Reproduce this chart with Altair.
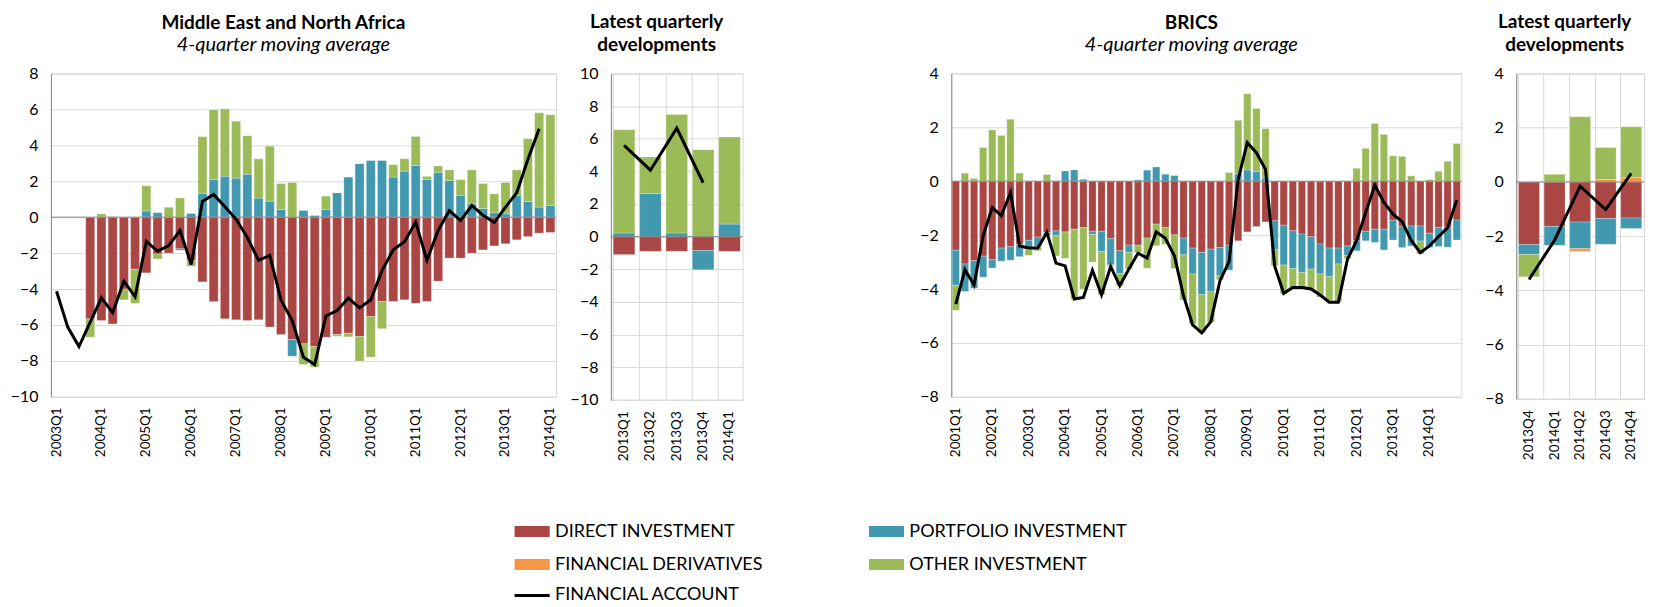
import altair as alt
import pandas as pd

FONT = "Lato"
GRID = "#D9D9D9"
AXIS = "#868686"

SERIES = ["DIRECT INVESTMENT", "PORTFOLIO INVESTMENT", "FINANCIAL DERIVATIVES", "OTHER INVESTMENT"]
COLORS = ["#AA4643", "#4198AF", "#F79646", "#9BBB59"]
LINE_NAME = "FINANCIAL ACCOUNT"


def quarter_labels(first_year, count):
    return [f"{first_year + k // 4}Q{k % 4 + 1}" for k in range(count)]


# ---------------- Middle East and North Africa (4-quarter moving average) ----------------
mena_cats = quarter_labels(2003, 45)  # 2003Q1 .. 2014Q1
mena_ticks = ["2003Q1", "2004Q1", "2005Q1", "2006Q1", "2007Q1", "2008Q1", "2009Q1",
              "2010Q1", "2011Q1", "2012Q1", "2013Q1", "2014Q1"]
mena_di = [None, None, None, -5.66, -5.75, -5.94, -4.0, -2.9, -3.1, -2.05,
           -2.0, -1.76, -2.4, -3.6, -4.7, -5.66, -5.71, -5.75, -5.71, -6.12,
           -6.53, -6.81, -7.05, -7.2, -6.68, -6.53, -6.46, -6.64, -5.53, -4.69,
           -4.69, -4.6, -4.79, -4.69, -3.56, -2.28, -2.28, -2.0, -1.82, -1.6,
           -1.48, -1.26, -1.08, -0.89, -0.85]
mena_pi = [None, None, None, 0, 0, 0, 0, 0, 0.35, 0.25,
           0, -0.08, 0.2, 1.33, 2.1, 2.28, 2.17, 2.39, 1.06, 0.89,
           0.43, -0.93, 0.37, 0.09, 0.43, 1.35, 2.23, 2.97, 3.15, 3.15,
           2.23, 2.56, 2.88, 2.1, 2.5, 2.04, 1.22, 0.74, 0.48, 0.24,
           0.19, 1.22, 0.87, 0.56, 0.65]
mena_oi = [None, None, None, -1.02, 0.19, 0.03, -0.6, -1.9, 1.4, -0.28,
           0.55, 1.07, -0.33, 3.15, 3.88, 3.75, 3.17, 2.14, 2.19, 3.06,
           1.44, 1.93, -1.15, -1.15, 0.74, -0.1, -0.2, -1.37, -2.26, -1.52,
           0.69, 0.69, 1.61, 0.17, 0.35, 0.59, 0.87, 1.89, 1.39, 1.06,
           1.74, 1.41, 3.5, 5.25, 5.05]
mena_fa = [-4.12, -6.12, -7.2, -5.84, -4.49, -5.32, -3.56, -4.42, -1.34, -1.89,
           -1.58, -0.74, -2.63, 0.87, 1.26, 0.58, -0.12, -1.13, -2.4, -2.13,
           -4.62, -5.75, -7.8, -8.2, -5.5, -5.2, -4.5, -5.05, -4.6, -2.97,
           -1.82, -1.37, -0.28, -2.4, -0.74, 0.37, -0.19, 0.65, 0.1, -0.3,
           0.56, 1.36, 3.22, 4.92, None]

# ---------------- MENA latest quarterly developments ----------------
menaq_cats = ["2013Q1", "2013Q2", "2013Q3", "2013Q4", "2014Q1"]
menaq_di = [-1.1, -0.9, -0.9, -0.85, -0.9]
menaq_pi = [0.22, 2.65, 0.22, -1.18, 0.77]
menaq_oi = [6.33, 2.23, 7.26, 5.33, 5.33]
menaq_fa = [5.59, 4.07, 6.65, 3.3, None]

# ---------------- BRICS (4-quarter moving average) ----------------
brics_cats = quarter_labels(2001, 56)  # 2001Q1 .. 2014Q4
brics_ticks = ["2001Q1", "2002Q1", "2003Q1", "2004Q1", "2005Q1", "2006Q1", "2007Q1",
               "2008Q1", "2009Q1", "2010Q1", "2011Q1", "2012Q1", "2013Q1", "2014Q1"]
brics_di = [-2.56, -3.07, -2.95, -2.78, -2.91, -2.48, -2.43, -2.35, -2.19, -2.07,
            -1.9, -1.84, -1.88, -1.78, -1.72, -1.86, -1.86, -2.13, -2.58, -2.37,
            -2.37, -2.11, -1.59, -1.72, -1.99, -2.11, -2.48, -2.64, -2.52, -2.46,
            -2.37, -2.21, -1.88, -1.68, -1.51, -1.47, -1.63, -1.84, -1.96, -2.06,
            -2.33, -2.48, -2.48, -2.4, -2.21, -1.86, -1.78, -1.78, -1.45, -1.69,
            -1.66, -1.66, -1.93, -1.72, -1.7, -1.44]
brics_pi = [-1.3, -1.02, -1.02, -0.78, -0.31, -0.49, -0.5, -0.45, -0.34, -0.35,
            -0.1, -0.18, 0.38, 0.42, 0.07, -0.12, -0.75, -0.97, -0.85, -0.27,
            0.05, 0.41, 0.53, 0.26, 0.21, -0.62, -0.96, -1.57, -1.58, -1.05,
            -0.93, 0.28, 0.42, 0.37, 0.12, -1.07, -1.48, -1.4, -1.42, -1.2,
            -1.11, -1.06, -0.59, -0.35, -0.37, -0.35, -0.49, -0.77, -0.73, -0.77,
            -0.74, -0.56, -0.53, -0.7, -0.75, -0.74]
brics_oi = [-0.93, 0.3, 0.1, 1.25, 1.9, 1.7, 2.3, 0.3, -0.22, -0.16,
            0.25, -0.75, -0.98, -2.6, -2.28, -1.02, -1.6, -0.05, -0.45, -0.62,
            -0.28, -1.12, -0.8, -0.62, -1.25, -1.68, -1.85, -1.42, -1.14, -0.15,
            0.32, 1.98, 2.83, 2.33, 1.83, -0.59, -1.07, -0.77, -0.56, -0.74,
            -0.86, -0.89, -1.4, -0.12, 0.48, 1.22, 2.14, 1.74, 0.94, 0.92,
            0.2, -0.48, 0.06, 0.37, 0.74, 1.4]
brics_fa = [-4.56, -3.28, -3.85, -2.02, -0.98, -1.28, -0.42, -2.4, -2.48, -2.48,
            -1.9, -3.04, -3.14, -4.37, -4.31, -3.3, -4.22, -3.17, -3.88, -3.26,
            -2.67, -2.85, -1.88, -2.12, -2.77, -4.25, -5.33, -5.63, -5.21, -3.69,
            -2.98, 0.07, 1.43, 1.06, 0.44, -3.14, -4.16, -3.94, -3.94, -4.0,
            -4.22, -4.49, -4.49, -2.89, -2.21, -1.16, -0.15, -0.79, -1.22, -1.5,
            -2.2, -2.65, -2.4, -2.05, -1.72, -0.7]

# ---------------- BRICS latest quarterly developments ----------------
bricsq_cats = ["2013Q4", "2014Q1", "2014Q2", "2014Q3", "2014Q4"]
bricsq_di = [-2.31, -1.64, -1.48, -1.35, -1.33]
bricsq_pi = [-0.37, -0.7, -0.98, -0.95, -0.39]
bricsq_fd = [0, 0, -0.1, 0.09, 0.16]
bricsq_oi = [-0.82, 0.28, 2.4, 1.18, 1.87]
bricsq_fa = [-3.6, -2.15, -0.16, -1.02, 0.31]


COLOR_LEGEND = alt.Legend(
    title=None, orient="none", legendX=461, legendY=450, columns=2, direction="horizontal",
    symbolType="M-1,-1H5.4V1H-1Z", symbolSize=121, symbolStrokeWidth=0, symbolOpacity=1,
    labelFont=FONT, labelFontSize=18, labelColor="#000", labelOffset=26, labelLimit=400,
    columnPadding=102, rowPadding=15,
)
LINE_LEGEND = alt.Legend(
    title=None, orient="none", legendX=461, legendY=514,
    symbolType="M-1,0H5.4", symbolSize=121, symbolStrokeWidth=3,
    labelFont=FONT, labelFontSize=18, labelColor="#000", labelOffset=26, labelLimit=400,
)


def panel(cats, di, pi, fd, oi, fa, ydom, width, height, title, xticks, quarterly):
    rows = []
    for s_idx, vals in enumerate([di, pi, fd, oi]):
        if vals is None:
            continue
        for c, v in zip(cats, vals):
            if v is None:
                continue
            rows.append({"cat": c, "series": SERIES[s_idx], "idx": s_idx, "value": v})
    bar_df = pd.DataFrame(rows)
    line_df = pd.DataFrame({"cat": cats, "fa": fa, "name": LINE_NAME}).dropna()

    yticks = list(range(ydom[0], ydom[1] + 1, 2))
    yscale = alt.Scale(domain=ydom, nice=False, zero=False)
    yaxis = alt.Axis(values=yticks, grid=True, gridColor=GRID, domainColor=AXIS,
                     ticks=False, tickSize=0, labelFontSize=16, labelPadding=13,
                     title=None)
    if quarterly:
        xscale = alt.Scale(domain=cats, paddingInner=0.18, paddingOuter=0.09)
        xaxis = alt.Axis(labelAngle=-90, labelFontSize=13.5, labelPadding=11,
                         grid=True, bandPosition=0, gridColor=GRID, domainColor=GRID,
                         ticks=False, tickSize=0, title=None)
    else:
        xscale = alt.Scale(domain=cats, paddingInner=0.2, paddingOuter=0.1)
        xaxis = alt.Axis(values=xticks, labelAngle=-90, labelFontSize=13.5, labelPadding=10,
                         grid=False, domainColor=GRID, ticks=False, tickSize=0, title=None)
    x = alt.X("cat:O", scale=xscale, axis=xaxis)

    bars = alt.Chart(bar_df).mark_bar(stroke="white", strokeWidth=0.5, strokeOpacity=0.5).encode(
        x=x,
        y=alt.Y("value:Q", stack="zero", scale=yscale, axis=yaxis),
        color=alt.Color("series:N", scale=alt.Scale(domain=SERIES, range=COLORS), legend=COLOR_LEGEND),
        order=alt.Order("idx:Q", sort="ascending"),
    )
    zero = alt.Chart(pd.DataFrame({"value": [0]})).mark_rule(color=AXIS, strokeWidth=1).encode(
        y=alt.Y("value:Q", scale=yscale, axis=yaxis)
    )
    line = alt.Chart(line_df).mark_line(strokeWidth=3).encode(
        x=x,
        y=alt.Y("fa:Q", scale=yscale, axis=yaxis),
        stroke=alt.Stroke("name:N", scale=alt.Scale(domain=[LINE_NAME], range=["#000000"]),
                          legend=LINE_LEGEND),
    )
    return alt.layer(bars, zero, line).properties(width=width, height=height, title=title)


def main_title(text):
    return alt.TitleParams(text=text, subtitle="4-quarter moving average", font=FONT, fontSize=19,
                           fontWeight="bold", color="#000", subtitleFont=FONT, subtitleFontSize=20,
                           subtitleFontStyle="italic", subtitleColor="#000", subtitlePadding=3,
                           anchor="middle", frame="bounds", offset=10)


def q_title():
    return alt.TitleParams(text=["Latest quarterly", "developments"], font=FONT, fontSize=19,
                           fontWeight="bold", color="#000", lineHeight=24,
                           anchor="middle", frame="bounds", offset=10)


mena_main = panel(mena_cats, mena_di, mena_pi, None, mena_oi, mena_fa, [-10, 8], 506, 324,
                  main_title("Middle East and North Africa"), mena_ticks, False)
mena_q = panel(menaq_cats, menaq_di, menaq_pi, None, menaq_oi, menaq_fa, [-10, 10], 132, 327,
               q_title(), None, True)
brics_main = panel(brics_cats, brics_di, brics_pi, None, brics_oi, brics_fa, [-8, 4], 511, 324,
                   main_title("BRICS"), brics_ticks, False)
brics_q = panel(bricsq_cats, bricsq_di, bricsq_pi, bricsq_fd, bricsq_oi, bricsq_fa, [-8, 4], 128, 326,
                q_title(), None, True)

# invisible spacer widening the gap between the two regional blocks
spacer = alt.Chart(pd.DataFrame({"s": [0]})).mark_point(opacity=0).encode(
    x=alt.X("s:Q", axis=None), y=alt.Y("s:Q", axis=None)
).properties(width=99, height=324, view=alt.ViewBackground(stroke=None))

chart = alt.hconcat(mena_main, mena_q, spacer, brics_main, brics_q, spacing=55, bounds="flush").properties(
    padding={"left": 1, "top": 3, "right": 0, "bottom": 0}
).configure(font=FONT).configure_view(stroke=GRID, strokeWidth=1).configure_axis(
    labelFont=FONT, labelColor="#000"
)

chart.save("out.html", embed_options={"renderer": "svg", "actions": False})
